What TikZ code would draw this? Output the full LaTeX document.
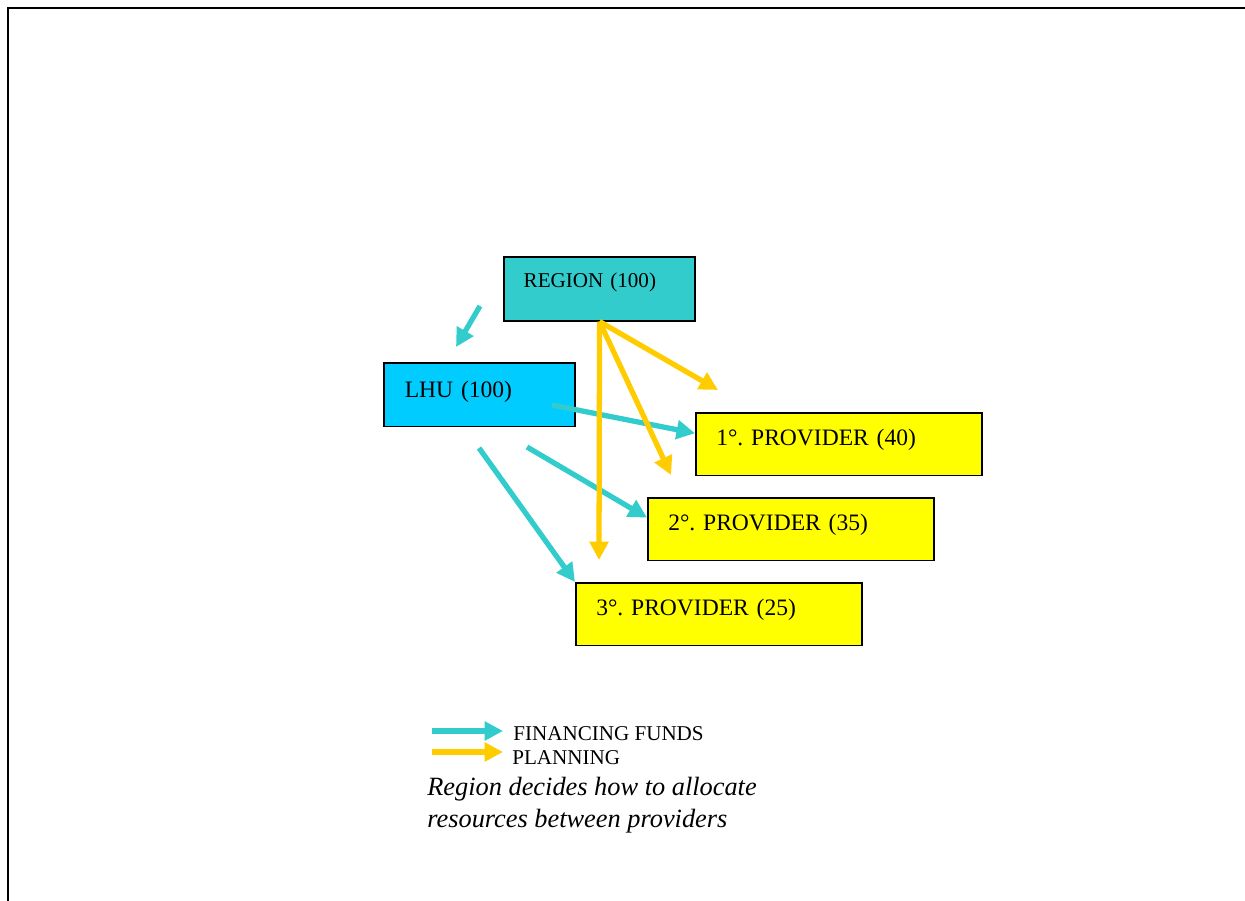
\documentclass[tikz,border=0pt]{standalone}
\usepackage{fontspec}
\setmainfont{Liberation Serif}
\usepackage{tikz}
\usetikzlibrary{positioning, arrows.meta, calc}
\frenchspacing
\definecolor{regionteal}{HTML}{33CCCC}
\definecolor{lhublue}{HTML}{00CCFF}
\definecolor{provyellow}{HTML}{FFFF00}
\definecolor{planorange}{HTML}{FFCC00}
\tikzset{
  % --- boxes: text sits near the top left, as in the slide ---
  orgbox/.style={
    draw, rectangle, line width=1pt, anchor=north west, align=left,
    inner xsep=11.6pt, inner ysep=0pt, font=\fontsize{13.4}{16}\selectfont,
    text width=139.7pt, text height=18.7pt, text depth=17.0pt,
  },
  regionbox/.style={orgbox, fill=regionteal, font=\fontsize{12}{14}\selectfont,
    inner xsep=11.3pt, text width=86.3pt, text height=17.6pt, text depth=18.7pt},
  lhubox/.style={orgbox, fill=lhublue, inner xsep=11.9pt, text width=85.1pt,
    text height=19.8pt, text depth=16.4pt},
  provbox/.style={orgbox, fill=provyellow},
  % --- flows ---
  funds/.style={-{Triangle[length=10.5pt, width=10.5pt]}, line width=3pt, regionteal},
  plan/.style={-{Triangle[length=10.5pt, width=10.5pt]}, line width=3pt, planorange},
  legtext/.style={anchor=base west, inner sep=0pt, font=\fontsize{12}{14}\selectfont},
}

\begin{document}
\begin{tikzpicture}[x=0.02cm, y=-0.02cm]
  \useasboundingbox (0,0) rectangle (1245,901);
  % ---- slide frame ----
  \draw[line width=1.3pt] (8,920) -- (8,8) -- (1260,8);

  % ---- Organisations ----
  \node[regionbox] (region) at (503,256) {REGION (100)};
  \node[lhubox] (lhu) at (383,362) {LHU (100)};
  \node[provbox] (prov1) at (695,412) {1°. PROVIDER (40)};
  \node[provbox] (prov2) at (647,497) {2°. PROVIDER (35)};
  \node[provbox] (prov3) at (575,582) {3°. PROVIDER (25)};

  % ---- free ends of the arrows ----
  \coordinate (rgA) at (480,306);
  \coordinate (rgB) at (456,347);
  \coordinate (lhuA) at (552,405);
  \coordinate (lhuB) at (527,447);
  \coordinate (lhuC) at (479,448);
  \coordinate (planA) at (718,390);
  \coordinate (planB) at (671,475);
  \coordinate (planC) at (599,560);

  % ---- Financing funds ----
  \draw[funds] (rgA) -- (rgB);
  \draw[funds] (lhuA) -- ($(prov1.north west)!0.33!(prov1.south west)$);
  \draw[funds] (lhuB) -- ($(prov2.north west)!0.32!(prov2.south west)$);
  \draw[funds] (lhuC) -- (prov3.north west);

  % ---- Planning ----
  \draw[plan] (region.south) -- (planA);
  \draw[plan] (region.south) -- (planB);
  \draw[plan] (region.south) -- (planC);

  % ---- Legend ----
  \node[legtext] (legfund) at (513,741) {FINANCING FUNDS};
  \node[legtext] (legplan) at (512,765) {PLANNING};
  \coordinate (lfA) at (432,731);
  \coordinate (lpA) at (432,752);
  \draw[funds] (lfA) -- (lfA -| 503,0);
  \draw[plan] (lpA) -- (lpA -| 503,0);
  \node[anchor=base west, inner sep=0pt, align=left,
    font=\fontsize{15}{18.7}\selectfont\itshape] (note) at (427,828)
    {Region decides how to allocate\\resources between providers};
\end{tikzpicture}
\end{document}
